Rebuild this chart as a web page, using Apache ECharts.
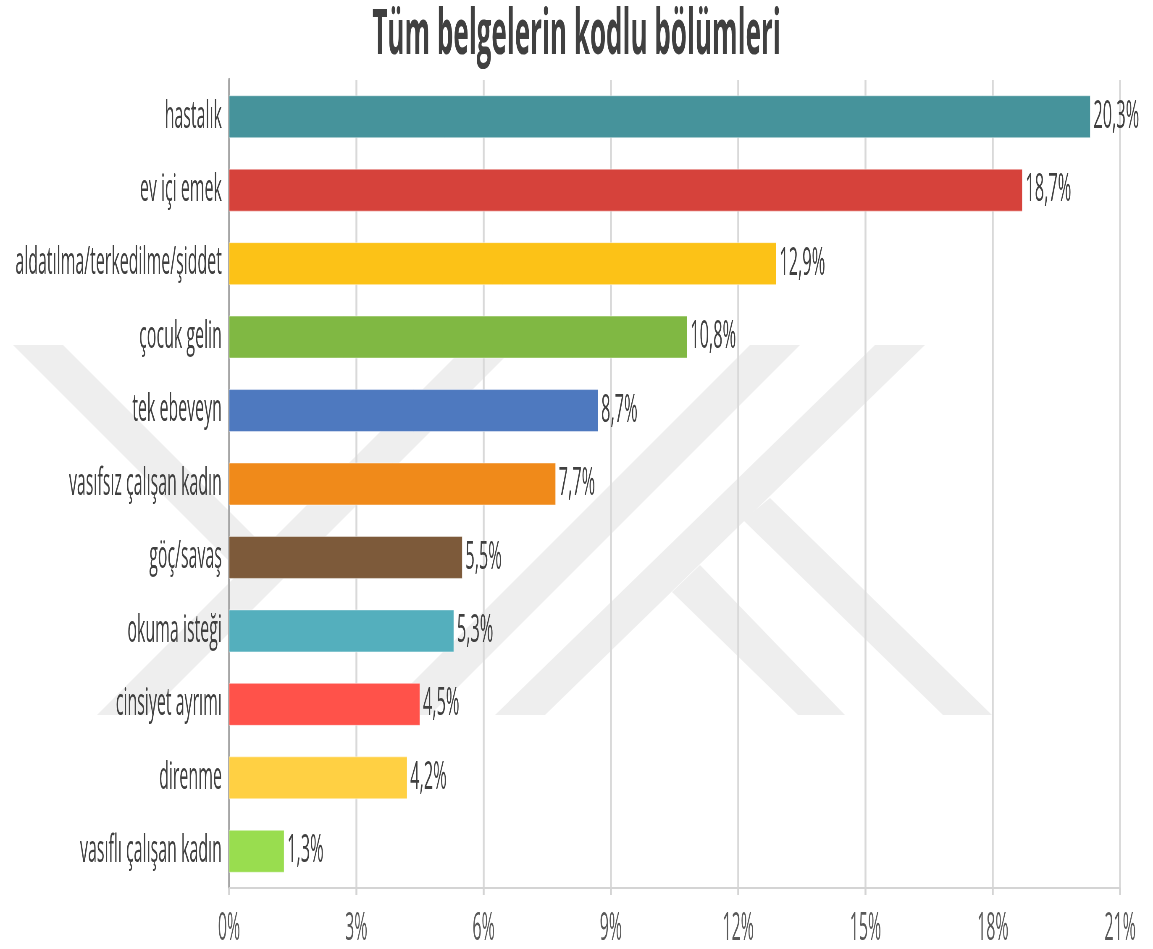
<!DOCTYPE html>
<html>
<head>
<meta charset="utf-8">
<script src="https://cdn.jsdelivr.net/npm/echarts@6/dist/echarts.min.js"></script>
<style>
  html, body { margin: 0; padding: 0; background: #ffffff; }
  #wrap { position: relative; width: 1153px; height: 949px; overflow: hidden; background: #ffffff; }
  #wm { position: absolute; left: 0; top: 0; }
  #chart { position: absolute; left: 0; top: 0; height: 949px; transform-origin: 0 0; }
</style>
</head>
<body>
<div id="wrap">
  <svg id="wm" width="1153" height="949" viewBox="0 0 1153 949">
    <g fill="#eeeeee">
      <polygon points="13,345 63,345 265,547 240,572"/>
      <polygon points="97,715 147,715 517,345 467,345"/>
      <polygon points="380,715 430,715 800,345 750,345"/>
      <polygon points="495,715 545,715 925,345 875,345"/>
      <polygon points="770,498 992,715 943,715 743,520"/>
      <polygon points="700,565 845,715 798,715 672,592"/>
    </g>
  </svg>
  <div id="chart"></div>
</div>
<script>
const categories = [
  'hastalık',
  'ev içi emek',
  'aldatılma/terkedilme/şiddet',
  'çocuk gelin',
  'tek ebeveyn',
  'vasıfsız çalışan kadın',
  'göç/savaş',
  'okuma isteği',
  'cinsiyet ayrımı',
  'direnme',
  'vasıflı çalışan kadın'
];
const values = [20.3, 18.7, 12.9, 10.8, 8.7, 7.7, 5.5, 5.3, 4.5, 4.2, 1.3];
const barColors = ['#46939B', '#D6423B', '#FCC217', '#80B843', '#4E79BF', '#F08A1A',
                   '#7D5A3A', '#54AFBD', '#FF524A', '#FFD043', '#99DD4F'];
const axisMin = 0, axisMax = 21, axisStep = 3;
const titleText = 'Tüm belgelerin kodlu bölümleri';

// The reference text is horizontally condensed: draw wide, then squeeze horizontally.
const SX = 0.42;
const W = Math.round(1153 / SX);
const el = document.getElementById('chart');
el.style.width = W + 'px';
el.style.transform = 'scaleX(' + (1153 / W) + ')';

const chart = echarts.init(el, null, { renderer: 'canvas' });
const font = "'Open Sans', 'Noto Sans', sans-serif";
chart.setOption({
  backgroundColor: 'transparent',
  animation: false,
  title: {
    text: titleText,
    left: 'center',
    top: 0,
    textStyle: { fontFamily: font, fontSize: 62, fontWeight: 'bold', color: '#404040' }
  },
  grid: { left: 229 / SX * (1153 / W) / (1153 / W), right: W - 1120 / SX, top: 80, bottom: 61, containLabel: false },
  xAxis: {
    type: 'value',
    min: axisMin, max: axisMax, interval: axisStep,
    axisLine: { show: true, lineStyle: { color: '#d4d4d4', width: 2 } },
    axisTick: { show: true, length: 7, lineStyle: { color: '#d4d4d4', width: 4.5 } },
    splitLine: { show: true, lineStyle: { color: '#d9d9d9', width: 4.5 } },
    axisLabel: {
      formatter: '{value}%', fontFamily: font, fontSize: 38, color: '#595959', margin: 22
    }
  },
  yAxis: {
    type: 'category',
    inverse: true,
    data: categories,
    axisLine: { show: true, lineStyle: { color: '#a6a6a6', width: 4.5 } },
    axisTick: { show: false },
    axisLabel: { fontFamily: font, fontSize: 38, color: '#404040', margin: 17 }
  },
  series: [{
    type: 'bar',
    data: values,
    barWidth: 43,
    itemStyle: {
      color: function (p) { return barColors[p.dataIndex]; },
      borderColor: 'rgba(255,255,255,0.45)',
      borderWidth: 1
    },
    label: {
      show: true,
      position: 'right',
      distance: 7,
      fontFamily: font,
      fontSize: 39,
      color: '#404040',
      formatter: function (p) { return p.value.toFixed(1).replace('.', ',') + '%'; }
    }
  }]
});
</script>
</body>
</html>
